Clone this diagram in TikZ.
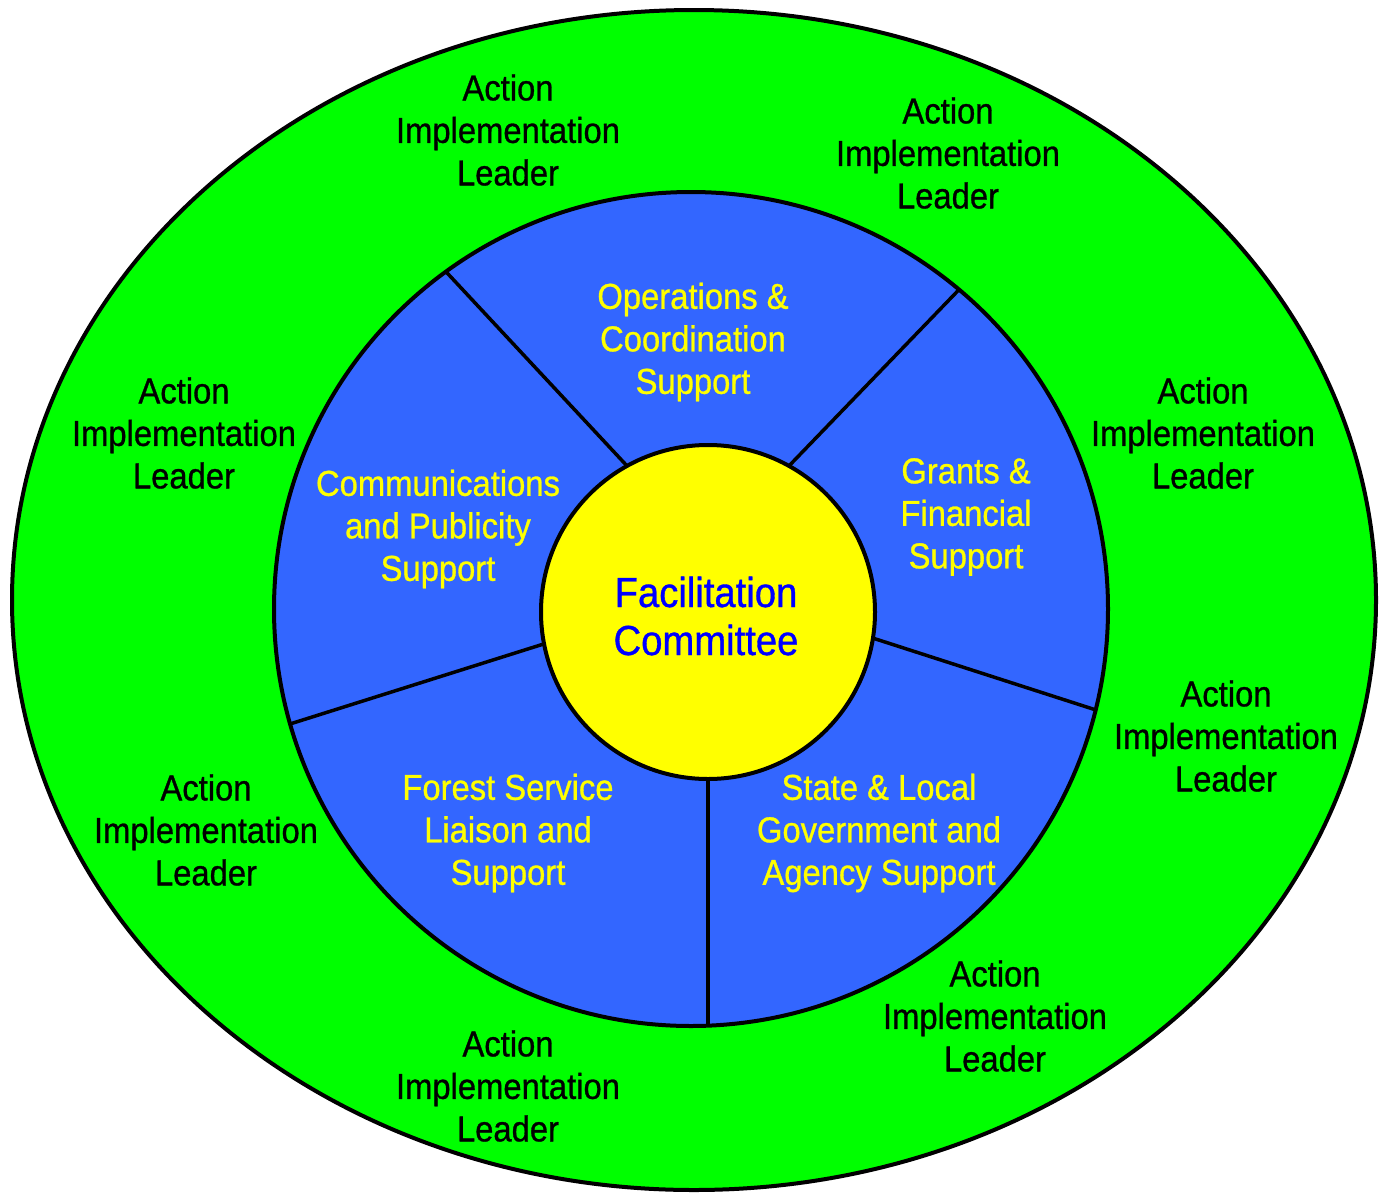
\documentclass[tikz,border=0pt]{standalone}
\usepackage{fontspec}
\usetikzlibrary{shapes.geometric}
\setmainfont[FakeStretch=0.91,FakeBold=0.8]{Liberation Sans}
\definecolor{ringgreen}{HTML}{00FF00}
\definecolor{segblue}{HTML}{3366FF}
\definecolor{hubyellow}{HTML}{FFFF00}
\definecolor{hubtext}{HTML}{0000FF}
\tikzset{
  outline/.style={draw=black, line width=4pt},
  leader/.style={align=center, inner sep=0pt, font=\fontsize{36}{42.5}\selectfont, text=black},
  segtext/.style={align=center, inner sep=0pt, font=\fontsize{36}{42.5}\selectfont, text=hubyellow},
  hubtxt/.style={align=center, inner sep=0pt, font=\fontsize{42}{48}\selectfont, text=hubtext},
  divider/.style={draw=black, line width=3.5pt}
}
\begin{document}
\begin{tikzpicture}[x=1pt, y=-1pt]
\useasboundingbox (0,0) rectangle (1384,1194);
% outer ring
\node[outline, fill=ringgreen, ellipse, minimum width=1364pt, minimum height=1180pt, inner sep=0pt, outer sep=0pt] (ring) at (694,600) {};
% blue disc
\node[outline, fill=segblue, circle, minimum size=834pt, inner sep=0pt, outer sep=0pt] (disc) at (691,609) {};
% hub placeholder for divider ends
\node[circle, minimum size=334pt, inner sep=0pt, outer sep=0pt] (hubc) at (708,612) {};
\draw[divider] (hubc.119) -- (disc.126);
\draw[divider] (hubc.61) -- (disc.50);
\draw[divider] (hubc.-9.5) -- (disc.-14);
\draw[divider] (hubc.-90) -- (hubc.-90 |- disc.south);
\draw[divider] (hubc.191.6) -- (disc.196.4);
% hub
\node[outline, fill=hubyellow, circle, minimum size=334pt, inner sep=0pt, outer sep=0pt] (hub) at (708,612) {};
\node[hubtxt] (hublabel) at (706,616) {Facilitation\\Committee};
% segment texts
\node[segtext] (ops) at (693,342) {Operations \&\\Coordination\\Support};
\node[segtext] (comm) at (438,529) {Communications\\and Publicity\\Support};
\node[segtext] (grants) at (966,517) {Grants \&\\Financial\\Support};
\node[segtext] (forest) at (508,833) {Forest Service\\Liaison and\\Support};
\node[segtext] (state) at (879,833) {State \& Local\\Government and\\Agency Support};
% leaders
\node[leader] (l1) at (508,130) {Action\\Implementation\\Leader};
\node[leader] (l2) at (948,153) {Action\\Implementation\\Leader};
\node[leader] (l3) at (184,433) {Action\\Implementation\\Leader};
\node[leader] (l4) at (1203,433) {Action\\Implementation\\Leader};
\node[leader] (l5) at (1226,736) {Action\\Implementation\\Leader};
\node[leader] (l6) at (206,830) {Action\\Implementation\\Leader};
\node[leader] (l7) at (508,1086) {Action\\Implementation\\Leader};
\node[leader] (l8) at (995,1016) {Action\\Implementation\\Leader};
\end{tikzpicture}
\end{document}
